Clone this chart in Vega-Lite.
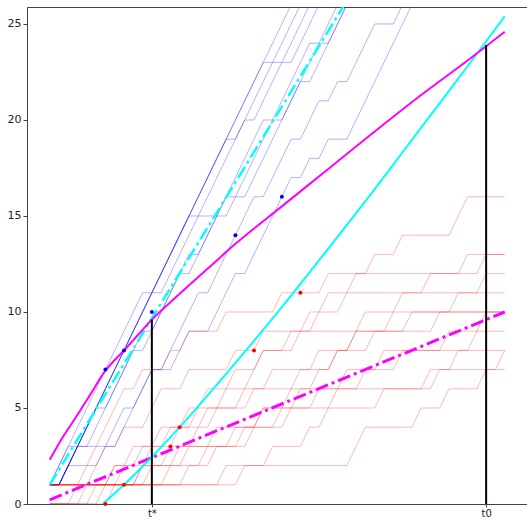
{
  "$schema": "https://vega.github.io/schema/vega-lite/v6.json",
  "width": 500,
  "height": 497,
  "autosize": {"type": "none"},
  "padding": {"left": 27, "top": 7, "right": 0, "bottom": 15},
  "background": "white",
  "config": {
    "view": {"stroke": "#444", "strokeWidth": 1},
    "axis": {"labelFont": "DejaVu Sans", "labelFontSize": 10, "labelColor": "#222", "domainColor": "#444", "tickColor": "#444", "grid": false, "title": null, "tickSize": 3, "labelPadding": 1}
  },
  "datasets": {
    "blue": [
      {"s":"b1","t":0,"v":1},{"s":"b1","t":10,"v":11},{"s":"b1","t":11,"v":11},{"s":"b1","t":27,"v":27},
      {"s":"b2","t":0,"v":1},{"s":"b2","t":1,"v":1},{"s":"b2","t":23,"v":23},{"s":"b2","t":24,"v":23},{"s":"b2","t":28,"v":27},
      {"s":"b3","t":0,"v":1},{"s":"b3","t":1,"v":1},{"s":"b3","t":19,"v":19},{"s":"b3","t":20,"v":19},{"s":"b3","t":24,"v":23},{"s":"b3","t":26,"v":23},{"s":"b3","t":30,"v":27},
      {"s":"b4","t":0,"v":1},{"s":"b4","t":1,"v":1},{"s":"b4","t":15,"v":15},{"s":"b4","t":19,"v":15},{"s":"b4","t":28,"v":24},{"s":"b4","t":30,"v":24},{"s":"b4","t":33,"v":27},
      {"s":"b5","t":0,"v":1},{"s":"b5","t":1,"v":1},{"s":"b5","t":11,"v":11},{"s":"b5","t":12,"v":11},{"s":"b5","t":21,"v":20},{"s":"b5","t":22,"v":20},{"s":"b5","t":29,"v":27},
      {"s":"b6","t":0,"v":1},{"s":"b6","t":1,"v":1},{"s":"b6","t":3,"v":3},{"s":"b6","t":4,"v":3},{"s":"b6","t":10,"v":9},{"s":"b6","t":11,"v":9},{"s":"b6","t":15,"v":13},{"s":"b6","t":16,"v":13},{"s":"b6","t":23,"v":20},{"s":"b6","t":25,"v":20},{"s":"b6","t":27,"v":22},{"s":"b6","t":28,"v":22},{"s":"b6","t":33,"v":27},
      {"s":"b7","t":0,"v":1},{"s":"b7","t":1,"v":1},{"s":"b7","t":5,"v":5},{"s":"b7","t":6,"v":5},{"s":"b7","t":9,"v":8},{"s":"b7","t":10,"v":8},{"s":"b7","t":14,"v":12},{"s":"b7","t":15,"v":12},{"s":"b7","t":19,"v":16},{"s":"b7","t":21,"v":16},{"s":"b7","t":32,"v":27},
      {"s":"b8","t":0,"v":1},{"s":"b8","t":2,"v":3},{"s":"b8","t":7,"v":3},{"s":"b8","t":11,"v":7},{"s":"b8","t":12,"v":7},{"s":"b8","t":16,"v":11},{"s":"b8","t":17,"v":11},{"s":"b8","t":22,"v":16},{"s":"b8","t":23,"v":16},{"s":"b8","t":26,"v":19},{"s":"b8","t":27,"v":19},{"s":"b8","t":29,"v":21},{"s":"b8","t":30,"v":21},{"s":"b8","t":31,"v":22},{"s":"b8","t":32,"v":22},{"s":"b8","t":35,"v":25},{"s":"b8","t":37,"v":25},{"s":"b8","t":39,"v":27},
      {"s":"b9","t":0,"v":1},{"s":"b9","t":1,"v":1},{"s":"b9","t":2,"v":2},{"s":"b9","t":5,"v":2},{"s":"b9","t":8,"v":5},{"s":"b9","t":9,"v":5},{"s":"b9","t":11,"v":7},{"s":"b9","t":13,"v":7},{"s":"b9","t":15,"v":9},{"s":"b9","t":17,"v":9},{"s":"b9","t":20,"v":12},{"s":"b9","t":21,"v":12},{"s":"b9","t":26,"v":17},{"s":"b9","t":27,"v":17},{"s":"b9","t":28,"v":18},{"s":"b9","t":29,"v":18},{"s":"b9","t":30,"v":19},{"s":"b9","t":32,"v":19},{"s":"b9","t":40,"v":27}
    ],
    "red": [
      {"s":"r1","t":0,"v":1},{"s":"r1","t":3,"v":1},{"s":"r1","t":8,"v":6},{"s":"r1","t":9,"v":6},{"s":"r1","t":10,"v":7},{"s":"r1","t":12,"v":7},{"s":"r1","t":13,"v":8},{"s":"r1","t":14,"v":8},{"s":"r1","t":15,"v":9},{"s":"r1","t":18,"v":9},{"s":"r1","t":19,"v":10},{"s":"r1","t":24,"v":10},{"s":"r1","t":25,"v":11},{"s":"r1","t":29,"v":11},{"s":"r1","t":30,"v":12},{"s":"r1","t":34,"v":12},{"s":"r1","t":35,"v":13},{"s":"r1","t":37,"v":13},{"s":"r1","t":38,"v":14},{"s":"r1","t":43,"v":14},{"s":"r1","t":45,"v":16},{"s":"r1","t":49,"v":16},
      {"s":"r2","t":0,"v":1},{"s":"r2","t":4,"v":1},{"s":"r2","t":6,"v":3},{"s":"r2","t":7,"v":3},{"s":"r2","t":8,"v":4},{"s":"r2","t":10,"v":4},{"s":"r2","t":12,"v":6},{"s":"r2","t":14,"v":6},{"s":"r2","t":15,"v":7},{"s":"r2","t":19,"v":7},{"s":"r2","t":20,"v":8},{"s":"r2","t":22,"v":8},{"s":"r2","t":23,"v":9},{"s":"r2","t":27,"v":9},{"s":"r2","t":28,"v":10},{"s":"r2","t":29,"v":10},{"s":"r2","t":30,"v":11},{"s":"r2","t":32,"v":11},{"s":"r2","t":33,"v":12},{"s":"r2","t":44,"v":12},{"s":"r2","t":45,"v":13},{"s":"r2","t":49,"v":13},
      {"s":"r3","t":0,"v":1},{"s":"r3","t":6,"v":1},{"s":"r3","t":7,"v":2},{"s":"r3","t":9,"v":2},{"s":"r3","t":10,"v":3},{"s":"r3","t":12,"v":3},{"s":"r3","t":13,"v":4},{"s":"r3","t":15,"v":4},{"s":"r3","t":16,"v":5},{"s":"r3","t":18,"v":5},{"s":"r3","t":19,"v":6},{"s":"r3","t":21,"v":6},{"s":"r3","t":23,"v":8},{"s":"r3","t":26,"v":8},{"s":"r3","t":27,"v":9},{"s":"r3","t":33,"v":9},{"s":"r3","t":34,"v":10},{"s":"r3","t":37,"v":10},{"s":"r3","t":38,"v":11},{"s":"r3","t":46,"v":11},{"s":"r3","t":47,"v":12},{"s":"r3","t":49,"v":12},
      {"s":"r4","t":0,"v":1},{"s":"r4","t":7,"v":1},{"s":"r4","t":8,"v":2},{"s":"r4","t":10,"v":2},{"s":"r4","t":11,"v":3},{"s":"r4","t":13,"v":3},{"s":"r4","t":14,"v":4},{"s":"r4","t":16,"v":4},{"s":"r4","t":17,"v":5},{"s":"r4","t":20,"v":5},{"s":"r4","t":21,"v":6},{"s":"r4","t":23,"v":6},{"s":"r4","t":24,"v":7},{"s":"r4","t":30,"v":7},{"s":"r4","t":31,"v":8},{"s":"r4","t":34,"v":8},{"s":"r4","t":35,"v":9},{"s":"r4","t":38,"v":9},{"s":"r4","t":39,"v":10},{"s":"r4","t":49,"v":10},
      {"s":"r5","t":0,"v":0},{"s":"r5","t":3,"v":0},{"s":"r5","t":4,"v":1},{"s":"r5","t":9,"v":1},{"s":"r5","t":10,"v":2},{"s":"r5","t":14,"v":2},{"s":"r5","t":15,"v":3},{"s":"r5","t":19,"v":3},{"s":"r5","t":20,"v":4},{"s":"r5","t":22,"v":4},{"s":"r5","t":23,"v":5},{"s":"r5","t":25,"v":5},{"s":"r5","t":26,"v":6},{"s":"r5","t":28,"v":6},{"s":"r5","t":29,"v":7},{"s":"r5","t":30,"v":7},{"s":"r5","t":31,"v":8},{"s":"r5","t":32,"v":8},{"s":"r5","t":33,"v":9},{"s":"r5","t":41,"v":9},{"s":"r5","t":42,"v":10},{"s":"r5","t":49,"v":10},
      {"s":"r6","t":0,"v":0},{"s":"r6","t":4,"v":0},{"s":"r6","t":5,"v":1},{"s":"r6","t":10,"v":1},{"s":"r6","t":11,"v":2},{"s":"r6","t":13,"v":2},{"s":"r6","t":14,"v":3},{"s":"r6","t":17,"v":3},{"s":"r6","t":18,"v":4},{"s":"r6","t":22,"v":4},{"s":"r6","t":23,"v":5},{"s":"r6","t":26,"v":5},{"s":"r6","t":27,"v":6},{"s":"r6","t":41,"v":6},{"s":"r6","t":42,"v":7},{"s":"r6","t":43,"v":7},{"s":"r6","t":44,"v":8},{"s":"r6","t":45,"v":8},{"s":"r6","t":46,"v":9},{"s":"r6","t":49,"v":9},
      {"s":"r7","t":0,"v":1},{"s":"r7","t":20,"v":1},{"s":"r7","t":21,"v":2},{"s":"r7","t":32,"v":2},{"s":"r7","t":34,"v":4},{"s":"r7","t":39,"v":4},{"s":"r7","t":40,"v":5},{"s":"r7","t":42,"v":5},{"s":"r7","t":43,"v":6},{"s":"r7","t":46,"v":6},{"s":"r7","t":47,"v":7},{"s":"r7","t":48,"v":7},{"s":"r7","t":49,"v":8},
      {"s":"r8","t":0,"v":0},{"s":"r8","t":5,"v":0},{"s":"r8","t":6,"v":1},{"s":"r8","t":12,"v":1},{"s":"r8","t":13,"v":2},{"s":"r8","t":16,"v":2},{"s":"r8","t":17,"v":3},{"s":"r8","t":20,"v":3},{"s":"r8","t":21,"v":4},{"s":"r8","t":25,"v":4},{"s":"r8","t":26,"v":5},{"s":"r8","t":28,"v":5},{"s":"r8","t":29,"v":6},{"s":"r8","t":31,"v":6},{"s":"r8","t":32,"v":7},{"s":"r8","t":35,"v":7},{"s":"r8","t":36,"v":8},{"s":"r8","t":49,"v":8},
      {"s":"r9","t":0,"v":1},{"s":"r9","t":18,"v":1},{"s":"r9","t":19,"v":2},{"s":"r9","t":23,"v":2},{"s":"r9","t":24,"v":3},{"s":"r9","t":27,"v":3},{"s":"r9","t":28,"v":4},{"s":"r9","t":29,"v":4},{"s":"r9","t":30,"v":5},{"s":"r9","t":35,"v":5},{"s":"r9","t":36,"v":6},{"s":"r9","t":40,"v":6},{"s":"r9","t":41,"v":7},{"s":"r9","t":49,"v":7},
      {"s":"r10","t":0,"v":0},{"s":"r10","t":6,"v":0},{"s":"r10","t":7,"v":1},{"s":"r10","t":14,"v":1},{"s":"r10","t":15,"v":2},{"s":"r10","t":17,"v":2},{"s":"r10","t":18,"v":3},{"s":"r10","t":21,"v":3},{"s":"r10","t":22,"v":4},{"s":"r10","t":24,"v":4},{"s":"r10","t":25,"v":5},{"s":"r10","t":30,"v":5},{"s":"r10","t":31,"v":6},{"s":"r10","t":33,"v":6},{"s":"r10","t":34,"v":7},{"s":"r10","t":37,"v":7},{"s":"r10","t":38,"v":8},{"s":"r10","t":42,"v":8},{"s":"r10","t":43,"v":9},{"s":"r10","t":46,"v":9},{"s":"r10","t":47,"v":10},{"s":"r10","t":49,"v":10},
      {"s":"r11","t":0,"v":0},{"s":"r11","t":2,"v":0},{"s":"r11","t":3,"v":1},{"s":"r11","t":6,"v":1},{"s":"r11","t":7,"v":2},{"s":"r11","t":8,"v":2},{"s":"r11","t":9,"v":3},{"s":"r11","t":11,"v":3},{"s":"r11","t":12,"v":4},{"s":"r11","t":14,"v":4},{"s":"r11","t":15,"v":5},{"s":"r11","t":16,"v":5},{"s":"r11","t":17,"v":6},{"s":"r11","t":19,"v":6},{"s":"r11","t":20,"v":7},{"s":"r11","t":22,"v":7},{"s":"r11","t":23,"v":8},{"s":"r11","t":25,"v":8},{"s":"r11","t":26,"v":9},{"s":"r11","t":28,"v":9},{"s":"r11","t":29,"v":10},{"s":"r11","t":31,"v":10},{"s":"r11","t":32,"v":11},{"s":"r11","t":40,"v":11},{"s":"r11","t":41,"v":12},{"s":"r11","t":46,"v":12},{"s":"r11","t":47,"v":13},{"s":"r11","t":49,"v":13},
      {"s":"r12","t":0,"v":1},{"s":"r12","t":9,"v":1},{"s":"r12","t":10,"v":2},{"s":"r12","t":12,"v":2},{"s":"r12","t":13,"v":3},{"s":"r12","t":15,"v":3},{"s":"r12","t":16,"v":4},{"s":"r12","t":17,"v":4},{"s":"r12","t":18,"v":5},{"s":"r12","t":21,"v":5},{"s":"r12","t":22,"v":6},{"s":"r12","t":26,"v":6},{"s":"r12","t":27,"v":7},{"s":"r12","t":28,"v":7},{"s":"r12","t":29,"v":8},{"s":"r12","t":32,"v":8},{"s":"r12","t":33,"v":9},{"s":"r12","t":36,"v":9},{"s":"r12","t":37,"v":10},{"s":"r12","t":43,"v":10},{"s":"r12","t":44,"v":11},{"s":"r12","t":49,"v":11}
    ],
    "curves": [
      {"c":"mag","t":0,"v":2.3},{"c":"mag","t":1.5,"v":3.55},{"c":"mag","t":3,"v":4.65},{"c":"mag","t":4.5,"v":5.8},{"c":"mag","t":6,"v":6.95},{"c":"mag","t":7,"v":7.5},{"c":"mag","t":8,"v":8.0},{"c":"mag","t":9.5,"v":8.8},{"c":"mag","t":11,"v":9.6},{"c":"mag","t":14,"v":10.95},{"c":"mag","t":17,"v":12.25},{"c":"mag","t":20,"v":13.55},{"c":"mag","t":25,"v":15.5},{"c":"mag","t":30,"v":17.45},{"c":"mag","t":35,"v":19.4},{"c":"mag","t":40,"v":21.3},{"c":"mag","t":45,"v":23.1},{"c":"mag","t":49,"v":24.6},
      {"c":"cyan","t":5.7,"v":0},{"c":"cyan","t":8,"v":1.0},{"c":"cyan","t":11,"v":2.45},{"c":"cyan","t":14,"v":4.0},{"c":"cyan","t":17,"v":5.65},{"c":"cyan","t":20,"v":7.35},{"c":"cyan","t":25,"v":10.25},{"c":"cyan","t":30,"v":13.3},{"c":"cyan","t":35,"v":16.4},{"c":"cyan","t":40,"v":19.6},{"c":"cyan","t":45,"v":22.8},{"c":"cyan","t":49,"v":25.4},
      {"c":"cyandash","t":0,"v":1.0},{"c":"cyandash","t":33,"v":27.0},
      {"c":"magdash","t":0,"v":0.22},{"c":"magdash","t":49,"v":10.0}
    ],
    "rules": [
      {"t":11,"v":0,"v2":9.6},
      {"t":47,"v":0,"v2":23.9}
    ],
    "dots": [
      {"k":"blue","t":6,"v":7},{"k":"blue","t":8,"v":8},{"k":"blue","t":11,"v":10},{"k":"blue","t":20,"v":14},{"k":"blue","t":25,"v":16},
      {"k":"red","t":6,"v":0},{"k":"red","t":8,"v":1},{"k":"red","t":13,"v":3},{"k":"red","t":14,"v":4},{"k":"red","t":22,"v":8},{"k":"red","t":27,"v":11}
    ]
  },
  "encoding": {
    "x": {"field": "t", "type": "quantitative", "scale": {"domain": [-2.445, 51.4], "nice": false, "zero": false},
          "axis": {"values": [11, 47], "labelExpr": "datum.value == 11 ? 't*' : 't0'"}},
    "y": {"field": "v", "type": "quantitative", "scale": {"domain": [0, 25.885], "nice": false, "zero": false},
          "axis": {"values": [0, 5, 10, 15, 20, 25], "labelFontSize": 11, "tickSize": 4, "labelPadding": 2}}
  },
  "layer": [
    {"data": {"name": "blue"}, "mark": {"type": "line", "color": "#0000ff", "opacity": 0.3, "strokeWidth": 1, "clip": true},
     "encoding": {"detail": {"field": "s"}}},
    {"data": {"name": "red"}, "mark": {"type": "line", "color": "#ff0000", "opacity": 0.28, "strokeWidth": 1, "clip": true},
     "encoding": {"detail": {"field": "s"}}},
    {"data": {"name": "curves"}, "transform": [{"filter": "datum.c == 'magdash'"}],
     "mark": {"type": "line", "color": "#ff00ff", "strokeWidth": 3, "strokeDash": [13, 4, 3, 4], "clip": true}, "encoding": {}},
    {"data": {"name": "curves"}, "transform": [{"filter": "datum.c == 'cyandash'"}],
     "mark": {"type": "line", "color": "#00ffff", "strokeWidth": 2.5, "strokeDash": [13, 4, 3, 4], "clip": true}, "encoding": {}},
    {"data": {"name": "curves"}, "transform": [{"filter": "datum.c == 'cyan'"}],
     "mark": {"type": "line", "color": "#00ffff", "strokeWidth": 2, "interpolate": "monotone", "clip": true}, "encoding": {}},
    {"data": {"name": "curves"}, "transform": [{"filter": "datum.c == 'mag'"}],
     "mark": {"type": "line", "color": "#ff00ff", "strokeWidth": 2, "interpolate": "monotone", "clip": true}, "encoding": {}},
    {"data": {"name": "rules"}, "mark": {"type": "rule", "color": "#000000", "strokeWidth": 2},
     "encoding": {"y2": {"field": "v2"}}},
    {"data": {"name": "dots"}, "mark": {"type": "circle", "size": 16, "opacity": 1},
     "encoding": {"color": {"field": "k", "type": "nominal", "scale": {"domain": ["blue", "red"], "range": ["#0000ff", "#ff0000"]}, "legend": null}}}
  ]
}
